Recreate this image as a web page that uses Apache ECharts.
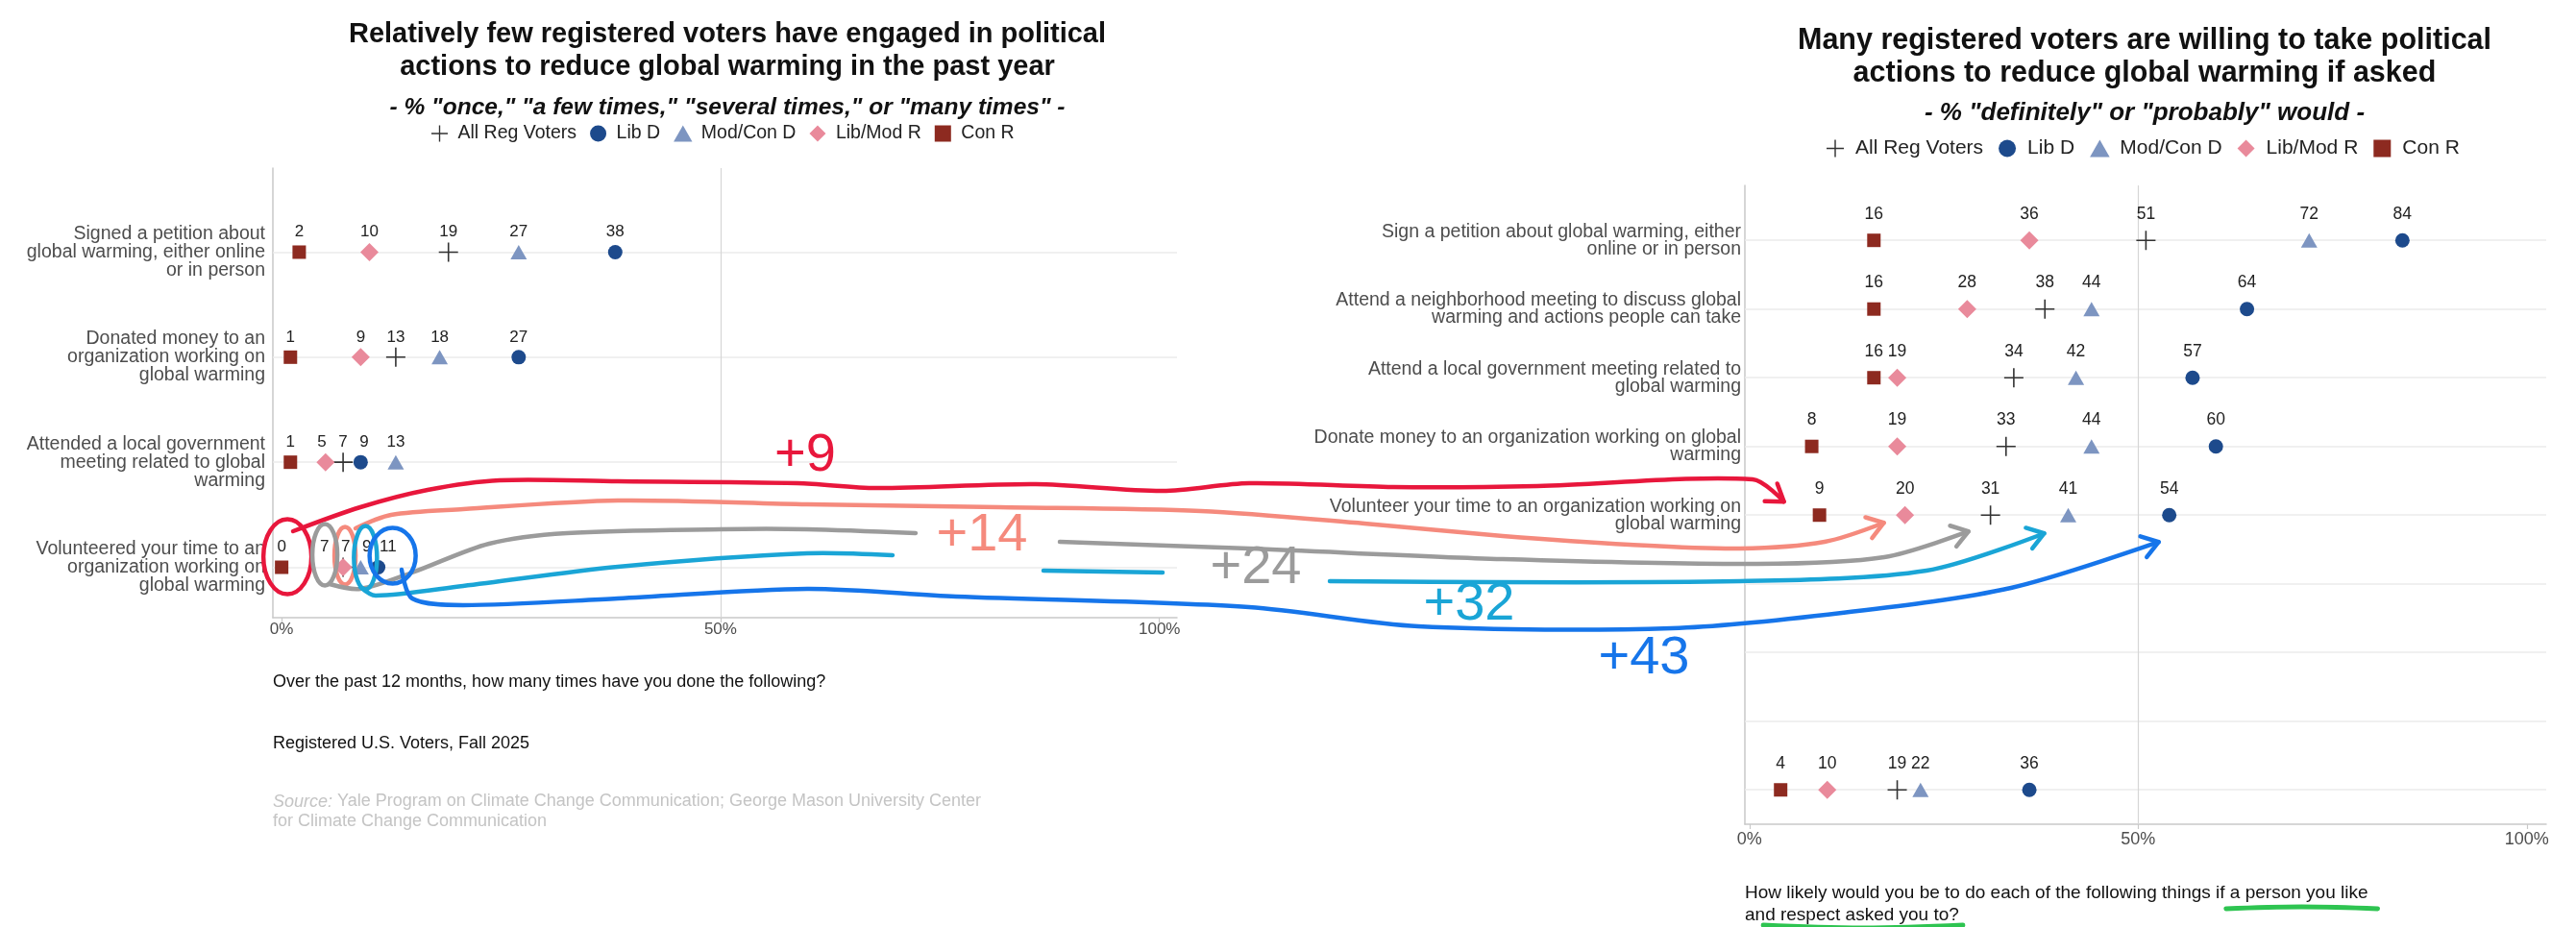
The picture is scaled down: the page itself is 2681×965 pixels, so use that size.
<!DOCTYPE html>
<html>
<head>
<meta charset="utf-8">
<script src="https://cdn.jsdelivr.net/npm/echarts@6/dist/echarts.min.js"></script>
<style>
  html, body { margin: 0; padding: 0; background: #fff; }
  #main { width: 2681px; height: 965px; }
</style>
</head>
<body>
<div id="main"></div>
<script>
// legend order
const groups = ['All Reg Voters', 'Lib D', 'Mod/Con D', 'Lib/Mod R', 'Con R'];

// left chart: done in the past 12 months
const pastActions = [
  'Signed a petition about\nglobal warming, either online\nor in person',
  'Donated money to an\norganization working on\nglobal warming',
  'Attended a local government\nmeeting related to global\nwarming',
  'Volunteered your time to an\norganization working on\nglobal warming'
];
const pastAll = [19, 13, 7, 7];
const pastLibD = [38, 27, 9, 11];
const pastModConD = [27, 18, 13, 9];
const pastLibModR = [10, 9, 5, 7];
const pastConR = [2, 1, 1, 0];

// right chart: would do if asked (rows 6-8 are blanked out in the source)
const askedActions = [
  'Sign a petition about global warming, either\nonline or in person',
  'Attend a neighborhood meeting to discuss global\nwarming and actions people can take',
  'Attend a local government meeting related to\nglobal warming',
  'Donate money to an organization working on global\nwarming',
  'Volunteer your time to an organization working on\nglobal warming',
  '', '', '', ''
];
const askedAll = [51, 38, 34, 33, 31, null, null, null, 19];
const askedLibD = [84, 64, 57, 60, 54, null, null, null, 36];
const askedModConD = [72, 44, 42, 44, 41, null, null, null, 22];
const askedLibModR = [36, 28, 19, 19, 20, null, null, null, 10];
const askedConR = [16, 16, 16, 8, 9, null, null, null, 4];

const pctTicks = [0, 50, 100];

// hand-drawn overlay: which group goes from the "volunteered" row to the "volunteer" row
const arrowGroups = ['Con R', 'Lib/Mod R', 'All Reg Voters', 'Mod/Con D', 'Lib D'];
const arrowLabels = ['+9', '+14', '+24', '+32', '+43'];

const pastByGroup = {
  'All Reg Voters': pastAll, 'Lib D': pastLibD, 'Mod/Con D': pastModConD,
  'Lib/Mod R': pastLibModR, 'Con R': pastConR
};
const askedByGroup = {
  'All Reg Voters': askedAll, 'Lib D': askedLibD, 'Mod/Con D': askedModConD,
  'Lib/Mod R': askedLibModR, 'Con R': askedConR
};

const FONT = "'Liberation Sans', Arial, Helvetica, sans-serif";
const PLUS = 'path://M9.2,0h1.6v9.2h9.2v1.6h-9.2v9.2h-1.6v-9.2h-9.2v-1.6h9.2z';
const SYM = {
  'All Reg Voters': { symbol: PLUS, size: 20, color: '#333333', icon: PLUS },
  'Lib D': { symbol: 'circle', size: 15, color: '#1d4a8c', icon: 'path://M8,0A8,8,0,1,1,8,16A8,8,0,1,1,8,0z' },
  'Mod/Con D': { symbol: 'triangle', size: [17, 15], color: '#7d95c1', icon: 'path://M8,0L16,14L0,14z' },
  'Lib/Mod R': { symbol: 'diamond', size: [19, 19], color: '#e98a9b', icon: 'path://M8,0L16,8L8,16L0,8z' },
  'Con R': { symbol: 'rect', size: [14, 14], color: '#8d2a20', icon: 'path://M0,0h14v14h-14z' }
};

const L = {
  grid: { left: 284, top: 175, width: 941, height: 468 },
  xMin: -1, xMax: 102, yMin: -0.8, yMax: 3.48,
  yFont: 19.5, yLine: 19, yMargin: 8, valFont: 17, valDy: -21, tickFont: 17, tickMargin: 4,
  legend: { left: 449, top: 129, font: 19.5, w: 28, h: 17, gap: 14 }
};
const R = {
  grid: { left: 1816, top: 193, width: 834, height: 665 },
  xMin: -0.6, xMax: 102.5, yMin: -0.8, yMax: 8.5,
  yFont: 19.5, yLine: 18, yMargin: 4, valFont: 17.5, valDy: -27.5, tickFont: 18, tickMargin: 7,
  legend: { left: 1901, top: 144, font: 21, w: 32, h: 18, gap: 16 }
};

// spread labels of one row apart so they do not sit on top of each other
function dodge(vals, gap) {
  const pos = vals.slice();
  const order = vals.map((v, i) => i).filter(i => vals[i] != null).sort((a, b) => vals[a] - vals[b]);
  for (let pass = 0; pass < 40; pass++) {
    for (let k = 1; k < order.length; k++) {
      const a = order[k - 1], b = order[k];
      const short = gap - (pos[b] - pos[a]);
      if (short > 0) { pos[a] -= short / 2; pos[b] += short / 2; }
    }
  }
  return pos;
}

function panelSeries(gi, names, byGroup, lay) {
  const ppu = lay.grid.width / (lay.xMax - lay.xMin);
  const shift = {};
  groups.forEach(g => { shift[g] = []; });
  names.forEach((_, r) => {
    const vals = groups.map(g => byGroup[g][r]);
    const pos = dodge(vals, 22 / ppu);
    groups.forEach((g, k) => { shift[g][r] = vals[k] == null ? 0 : (pos[k] - vals[k]) * ppu; });
  });

  const list = [{
    // row gridlines and the 50% line, kept under the marks
    type: 'scatter', name: 'grid' + gi, xAxisIndex: gi, yAxisIndex: gi, data: [], silent: true, z: 1,
    markLine: {
      z: 1, symbol: 'none', silent: true, animation: false, label: { show: false },
      data: names.map((_, r) => ({ yAxis: r, lineStyle: { color: '#ebebeb', width: 1.6, type: 'solid' } }))
        .concat([{ xAxis: 50, lineStyle: { color: '#d6d6d6', width: 1.2, type: 'solid' } }])
    }
  }];

  groups.forEach(g => {
    const s = SYM[g];
    const data = [];
    byGroup[g].forEach((v, r) => {
      if (v == null) return;
      data.push({ value: [v, r], label: { offset: [shift[g][r], lay.valDy] } });
    });
    list.push({
      type: 'scatter', name: g, xAxisIndex: gi, yAxisIndex: gi, silent: true, z: 6,
      symbol: s.symbol, symbolSize: s.size,
      itemStyle: { color: s.color, opacity: 1 },
      label: {
        show: true, position: 'inside', formatter: p => String(p.value[0]),
        color: '#222', fontSize: lay.valFont, fontFamily: FONT
      },
      data
    });
  });
  return list;
}

const panels = [
  { names: pastActions, byGroup: pastByGroup, lay: L },
  { names: askedActions, byGroup: askedByGroup, lay: R }
];

const option = {
  animation: false,
  textStyle: { fontFamily: FONT },
  grid: panels.map(p => Object.assign({ containLabel: false }, p.lay.grid)),
  xAxis: panels.map((p, i) => ({
    type: 'value', gridIndex: i, min: p.lay.xMin, max: p.lay.xMax,
    axisLine: { show: true, onZero: false, lineStyle: { color: '#c9c9c9', width: 1.5 } },
    axisTick: { show: true, customValues: pctTicks, length: 5, lineStyle: { color: '#c9c9c9', width: 1.2 } },
    axisLabel: {
      customValues: pctTicks, formatter: v => v + '%', color: '#4d4d4d',
      fontSize: p.lay.tickFont, margin: p.lay.tickMargin
    },
    splitLine: { show: false }
  })),
  yAxis: panels.map((p, i) => ({
    type: 'value', gridIndex: i, inverse: true, min: p.lay.yMin, max: p.lay.yMax,
    axisLine: { show: true, onZero: false, lineStyle: { color: '#c9c9c9', width: 1.5 } },
    axisTick: { show: false, customValues: p.names.map((_, r) => r) },
    axisLabel: {
      customValues: p.names.map((_, r) => r),
      formatter: v => (Number.isInteger(v) && p.names[v]) ? p.names[v] : '',
      color: '#4d4d4d', fontSize: p.lay.yFont, lineHeight: p.lay.yLine, margin: p.lay.yMargin, align: 'right'
    },
    splitLine: { show: false }
  })),
  legend: panels.map(p => ({
    data: groups.map(g => ({ name: g, icon: SYM[g].icon })),
    left: p.lay.legend.left, top: p.lay.legend.top, padding: 0,
    itemWidth: p.lay.legend.w, itemHeight: p.lay.legend.h, itemGap: p.lay.legend.gap,
    selectedMode: false,
    textStyle: { color: '#222', fontSize: p.lay.legend.font, fontFamily: FONT }
  })),
  series: panels.reduce((acc, p, i) => acc.concat(panelSeries(i, p.names, p.byGroup, p.lay)), [])
};

const chart = echarts.init(document.getElementById('main'));
chart.setOption(option);

// ---- texts and the hand-drawn overlay ----
const measure = (() => {
  const ctx = document.createElement('canvas').getContext('2d');
  return (t, size) => { ctx.font = size + 'px ' + FONT; return ctx.measureText(t).width; };
})();

function txt(x, y, text, size, opts) {
  return {
    type: 'text', x, y, silent: true, z: 50,
    style: Object.assign({
      text, fontSize: size, fontFamily: FONT, fill: '#111', align: 'left', verticalAlign: 'middle'
    }, opts || {})
  };
}

const noteR1 = 'How likely would you be to do each of the following things if a person you like';
const noteR2 = 'and respect asked you to?';

const els = [
  txt(757, 53, 'Relatively few registered voters have engaged in political\nactions to reduce global warming in the past year', 29,
    { fontWeight: 'bold', align: 'center', lineHeight: 34 }),
  txt(757, 112, '- % "once," "a few times," "several times," or "many times" -', 24.5,
    { fontWeight: 'bold', fontStyle: 'italic', align: 'center' }),
  txt(2232, 60, 'Many registered voters are willing to take political\nactions to reduce global warming if asked', 30.5,
    { fontWeight: 'bold', align: 'center', lineHeight: 34 }),
  txt(2232, 118, '- % "definitely" or "probably" would -', 26,
    { fontWeight: 'bold', fontStyle: 'italic', align: 'center' }),
  txt(284, 710, 'Over the past 12 months, how many times have you done the following?', 18),
  txt(284, 774, 'Registered U.S. Voters, Fall 2025', 18),
  txt(284, 845, '{i|Source:} Yale Program on Climate Change Communication; George Mason University Center\nfor Climate Change Communication', 18,
    { fill: '#c4c4c4', lineHeight: 21, rich: { i: { fontStyle: 'italic', fill: '#c4c4c4', fontSize: 18, fontFamily: FONT } } }),
  txt(1816, 941, noteR1 + '\n' + noteR2, 19, { lineHeight: 23 })
];

// green underlines under "a person you like" / "and respect asked you to"
const GREEN = '#2ec451';
const u1a = 1816 + measure(noteR1.slice(0, noteR1.indexOf('a person')), 19) - 4;
const u1b = 1816 + measure(noteR1, 19) + 10;
const u2a = 1816 + measure('an', 19) - 2;
const u2b = 1816 + measure(noteR2, 19) + 4;
[[[u1a, 946], [(u1a + u1b) / 2, 944], [u1b, 946]], [[u2a, 963], [(u2a + u2b) / 2, 966], [u2b, 963]]].forEach(pts => {
  els.push({ type: 'polyline', silent: true, z: 60, shape: { points: pts, smooth: 0.4 },
    style: { stroke: GREEN, lineWidth: 5, fill: null, lineCap: 'round' } });
});

// per-arrow hand geometry: loop around the left mark, free-hand runs, arrow tip near the right mark
const hand = {
  'Con R': { color: '#e8173c', loop: [6, -11, 25, 39], tip: [-37, -14], text: [838, 475],
    runs: [[[305, 553], [375, 528], [445, 510], [520, 500], [643, 501], [830, 503], [912, 508], [1078, 504],
      [1210, 511], [1300, 503], [1450, 507], [1600, 506], [1824, 499]]] },
  'Lib/Mod R': { color: '#f58a7d', loop: [2, -12, 11, 30], tip: [-22, 8], text: [1022, 558],
    runs: [[[370, 550], [407, 536], [482, 530], [643, 521], [840, 525], [1040, 528], [1250, 532], [1420, 545],
      [1564, 558], [1696, 567], [1811, 571], [1899, 564]]] },
  'All Reg Voters': { color: '#9b9b9b', loop: [-19, -13, 13, 32], tip: [-23, 17], text: [1307, 592],
    runs: [[[343, 608], [375, 613], [429, 596], [509, 566], [590, 555], [750, 551], [840, 551], [953, 555]],
      [[1103, 564], [1300, 571], [1564, 582], [1829, 587], [1961, 580]]] },
  'Mod/Con D': { color: '#1aa5d6', loop: [5, -10, 12, 33], tip: [-25, 19], text: [1529, 630],
    runs: [[[375, 611], [391, 620], [482, 610], [643, 590], [840, 576], [929, 578]],
      [[1086, 594], [1210, 596]],
      [[1384, 605], [1811, 605], [2005, 594]]] },
  'Lib D': { color: '#1675ea', loop: [15, -12, 24, 29], tip: [-11, 28], text: [1711, 686],
    runs: [[[418, 593], [429, 623], [482, 630], [643, 623], [840, 613], [995, 621], [1300, 632], [1476, 652],
      [1740, 654], [1917, 638], [2093, 612]]] }
};

const leftRow = pastActions.length - 1;
const rightRow = askedActions.indexOf('Volunteer your time to an organization working on\nglobal warming');

arrowGroups.forEach((g, k) => {
  const h = hand[g];
  const S = chart.convertToPixel({ gridIndex: 0 }, [pastByGroup[g][leftRow], leftRow]);
  const E = chart.convertToPixel({ gridIndex: 1 }, [askedByGroup[g][rightRow], rightRow]);
  const stroke = { stroke: h.color, lineWidth: 4.5, fill: null, lineCap: 'round', lineJoin: 'round' };
  els.push({ type: 'ellipse', silent: true, z: 60,
    shape: { cx: S[0] + h.loop[0], cy: S[1] + h.loop[1], rx: h.loop[2], ry: h.loop[3] }, style: stroke });
  const tip = [E[0] + h.tip[0], E[1] + h.tip[1]];
  h.runs.forEach((run, i) => {
    const pts = run.slice();
    if (i === h.runs.length - 1) pts.push(tip);
    els.push({ type: 'polyline', silent: true, z: 60, shape: { points: pts, smooth: 0.3 }, style: stroke });
  });
  const last = h.runs[h.runs.length - 1];
  const prev = last[last.length - 1];
  const a = Math.atan2(tip[1] - prev[1], tip[0] - prev[0]);
  const len = 20, th = 0.6;
  els.push({ type: 'polyline', silent: true, z: 60,
    shape: { points: [[tip[0] - len * Math.cos(a + th), tip[1] - len * Math.sin(a + th)], tip,
      [tip[0] - len * Math.cos(a - th), tip[1] - len * Math.sin(a - th)]] }, style: stroke });
  els.push(txt(h.text[0], h.text[1], arrowLabels[k], 56, { fill: h.color, align: 'center' }));
});

chart.setOption({ graphic: els });
</script>
</body>
</html>
